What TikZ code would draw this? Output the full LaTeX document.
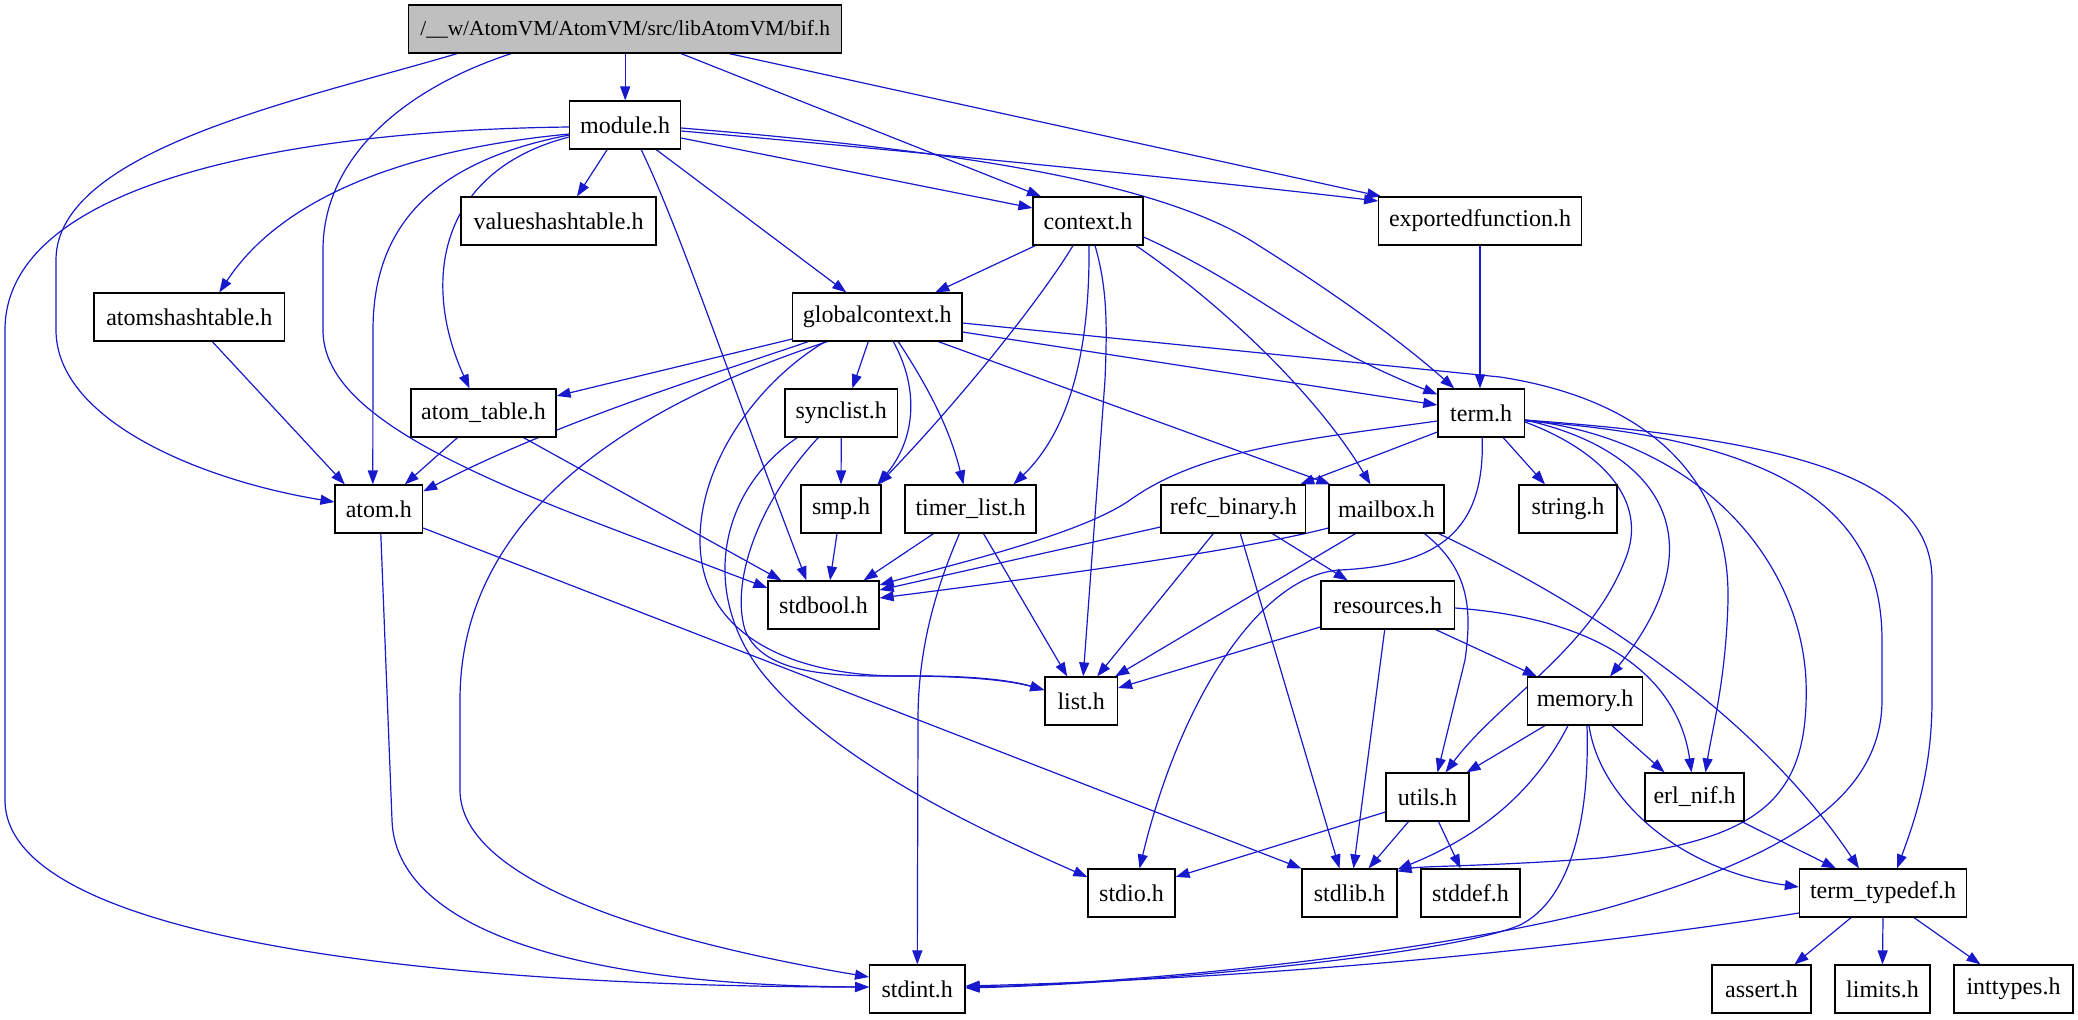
\documentclass[tikz,border=0pt]{standalone}
\usepackage{fontspec}
\setmainfont{Liberation Serif}
\usetikzlibrary{calc,arrows.meta}
\definecolor{edgeblue}{RGB}{24,24,204}
\definecolor{rootgray}{RGB}{191,191,191}
\pgfdeclarelayer{bglayer}
\pgfdeclarelayer{edgelayer}
\pgfsetlayers{bglayer,edgelayer,main}
\begin{document}
\begin{tikzpicture}[x=0.5pt,y=-0.5pt,
 box/.style={draw=black, line width=0.6pt, fill=white, minimum height=24pt, inner sep=0pt, font=\fontsize{12pt}{14pt}\selectfont},
 dep/.style={draw=edgeblue, line width=0.6pt, -{Triangle[length=7pt,width=5pt]}}]
\begin{pgfonlayer}{bglayer}
\fill[white] (0,0) rectangle (2078,1019);
\end{pgfonlayer}
\useasboundingbox (0,0) rectangle (2078,1019);

\node[box, fill=rootgray, minimum width=216.5pt, font=\fontsize{10.7pt}{13pt}\selectfont] (bif) at (625.2,29) {/\_\_w/AtomVM/AtomVM/src/libAtomVM/bif.h};
\node[box, minimum width=55.4pt] (module) at (625.2,125) {module.h};
\node[box, minimum width=97.5pt] (valueshashtable) at (558.5,221) {valueshashtable.h};
\node[box, minimum width=55pt] (context) at (1088,221) {context.h};
\node[box, minimum width=101.3pt] (exportedfunction) at (1480,221) {exportedfunction.h};
\node[box, minimum width=95.3pt] (atomshashtable) at (189.3,317) {atomshashtable.h};
\node[box, minimum width=84.6pt] (globalcontext) at (877.3,317) {globalcontext.h};
\node[box, minimum width=72.5pt] (atomtable) at (483.5,413) {atom\_table.h};
\node[box, minimum width=56.4pt] (synclist) at (841.3,413) {synclist.h};
\node[box, minimum width=43.3pt] (term) at (1481.2,413) {term.h};
\node[box, minimum width=43.8pt] (atom) at (378.8,509) {atom.h};
\node[box, minimum width=40pt] (smp) at (841,509) {smp.h};
\node[box, minimum width=65.5pt] (timerlist) at (970.5,509) {timer\_list.h};
\node[box, minimum width=72.3pt] (refc) at (1233.3,509) {refc\_binary.h};
\node[box, minimum width=57.5pt] (mailbox) at (1386.5,509) {mailbox.h};
\node[box, minimum width=49pt] (string) at (1568,509) {string.h};
\node[box, minimum width=55.5pt] (stdbool) at (823.5,605) {stdbool.h};
\node[box, minimum width=66.8pt] (resources) at (1387.7,605) {resources.h};
\node[box, minimum width=36.3pt] (list) at (1081.2,701) {list.h};
\node[box, minimum width=57.5pt] (memory) at (1585,701) {memory.h};
\node[box, minimum width=41.5pt] (utils) at (1427.5,797) {utils.h};
\node[box, minimum width=49.5pt] (erlnif) at (1694.5,797) {erl\_nif.h};
\node[box, minimum width=43.5pt] (stdio) at (1131.5,893) {stdio.h};
\node[box, minimum width=47.5pt] (stdlib) at (1349.5,893) {stdlib.h};
\node[box, minimum width=49.5pt] (stddef) at (1470.5,893) {stddef.h};
\node[box, minimum width=83.5pt] (termtypedef) at (1883,893) {term\_typedef.h};
\node[box, minimum width=49.5pt] (assert) at (1761.5,989) {assert.h};
\node[box, minimum width=47.5pt] (limits) at (1882.5,989) {limits.h};
\node[box, minimum width=59.5pt] (inttypes) at (2013.5,989) {inttypes.h};
\node[box, minimum width=47.7pt] (stdint) at (917.3,989) {stdint.h};

\begin{pgfonlayer}{edgelayer}
% bif.h
\draw[dep] (bif.south) -- (module.north);
\draw[dep] ($(bif.south)+(-168,0)$) .. controls (300,100) and (56,150) .. (56,260) -- (56,330) .. controls (56,420) and (200,480) .. ($(atom.west)+(0,-7)$);
\draw[dep] ($(bif.south)+(-114,0)$) .. controls (400,90) and (323,160) .. (323,250) -- (323,330) .. controls (323,400) and (420,455) .. (597,523) -- ($(stdbool.west)+(0,-17)$);
\draw[dep] ($(bif.south)+(56,0)$) -- ($(context.north)+(-47,0)$);
\draw[dep] ($(bif.south)+(104,0)$) -- ($(exportedfunction.north west)+(3,0)$);
% module.h
\draw[dep] ($(module.west)+(0,2)$) .. controls (300,130) and (5,180) .. (5,330) -- (5,800) .. controls (5,950) and (500,987) .. ($(stdint.west)+(0,-2)$);
\draw[dep] ($(module.west)+(0,9)$) .. controls (400,150) and (280,200) .. ($(atomshashtable.north)+(30,0)$);
\draw[dep] ($(module.west)+(0,10)$) .. controls (440,160) and (373,220) .. (373,330) -- ($(atom.north)+(-6,0)$);
\draw[dep] ($(module.west)+(0,12)$) .. controls (440,170) and (420,280) .. ($(atomtable.north)+(-14,0)$);
\draw[dep] ($(module.south)+(-18,0)$) -- ($(valueshashtable.north)+(18.5,0)$);
\draw[dep] ($(module.south)+(16,0)$) .. controls (680,230) and (730,380) .. ($(stdbool.north)+(-17,0)$);
\draw[dep] ($(module.south)+(31,0)$) -- ($(globalcontext.north)+(-31,0)$);
\draw[dep] ($(module.east)+(0,13)$) -- ($(context.west)+(0,-13)$);
\draw[dep] ($(module.east)+(0,6)$) .. controls (900,150) and (1200,180) .. ($(exportedfunction.west)+(0,-20)$);
\draw[dep] ($(module.east)+(0,3)$) .. controls (950,150) and (1150,180) .. (1250,240) .. controls (1330,290) and (1400,340) .. ($(term.north)+(-27,0)$);
% context.h
\draw[dep] ($(context.south west)+(3,0)$) -- ($(globalcontext.north)+(58,0)$);
\draw[dep] ($(context.south)+(-15,0)$) .. controls (1040,300) and (960,400) .. ($(smp.north east)+(-3,0)$);
\draw[dep] ($(context.south)+(1,0)$) .. controls (1090,350) and (1070,430) .. ($(timerlist.north)+(43,0)$);
\draw[dep] ($(context.south)+(7,0)$) .. controls (1108,290) and (1107,330) .. (1105,380) -- ($(list.north)+(2,0)$);
\draw[dep] ($(context.south)+(48,0)$) .. controls (1230,310) and (1320,400) .. ($(mailbox.north)+(-16,0)$);
\draw[dep] ($(context.east)+(0,16)$) .. controls (1260,290) and (1300,340) .. ($(term.north west)+(0,6)$);
% exportedfunction.h
\draw[dep] (exportedfunction.south) -- (exportedfunction.south |- term.north);
% globalcontext.h
\draw[dep] ($(globalcontext.west)+(0,22)$) -- ($(atomtable.east)+(0,-17)$);
\draw[dep] ($(globalcontext.south)+(-69,0)$) .. controls (720,372) and (560,420) .. ($(atom.north east)+(0,7)$);
\draw[dep] ($(globalcontext.south)+(-50,0)$) .. controls (620,410) and (460,520) .. (460,700) -- (460,790) .. controls (460,880) and (650,940) .. ($(stdint.west)+(0,-12)$);
\draw[dep] ($(globalcontext.south)+(-52,0)$) .. controls (760,380) and (700,460) .. (700,540) .. controls (700,640) and (800,676) .. (900,676) .. controls (980,676) and (1015,682) .. ($(list.west)+(0,-11)$);
\draw[dep] ($(globalcontext.south)+(-9,0)$) -- ($(synclist.north)+(11,0)$);
\draw[dep] ($(globalcontext.south)+(16,0)$) .. controls (920,390) and (915,440) .. ($(smp.north east)+(-4,0)$);
\draw[dep] ($(globalcontext.south)+(21,0)$) .. controls (930,390) and (950,430) .. ($(timerlist.north)+(-7,0)$);
\draw[dep] ($(globalcontext.south)+(61,0)$) -- ($(mailbox.north west)+(2,0)$);
\draw[dep] ($(globalcontext.east)+(0,15)$) -- ($(term.west)+(0,-8)$);
\draw[dep] ($(globalcontext.east)+(0,6)$) -- (1500,377) .. controls (1650,400) and (1730,480) .. (1728,600) .. controls (1726,680) and (1712,730) .. ($(erlnif.north)+(11,0)$);
% atomshashtable.h, atom_table.h, atom.h
\draw[dep] ($(atomshashtable.south)+(23,0)$) -- ($(atom.north)+(-34,0)$);
\draw[dep] ($(atomtable.south)+(-26,0)$) -- ($(atom.north)+(26,0)$);
\draw[dep] ($(atomtable.south)+(40,0)$) -- ($(stdbool.north west)+(14,0)$);
\draw[dep] ($(atom.south)+(2,0)$) -- (392,820) .. controls (395,920) and (550,985) .. ($(stdint.west)+(0,-2)$);
\draw[dep] ($(atom.east)+(0,19)$) -- (stdlib.north west);
% synclist.h, smp.h, timer_list.h
\draw[dep] (synclist.south) -- (smp.north);
\draw[dep] ($(synclist.south)+(-23,0)$) .. controls (760,500) and (730,580) .. (745,630) .. controls (765,680) and (850,676) .. (920,676) .. controls (990,676) and (1020,683) .. ($(list.west)+(0,-11)$);
\draw[dep] ($(synclist.south)+(-44,0)$) .. controls (720,490) and (700,590) .. (760,670) .. controls (830,760) and (980,830) .. ($(stdio.west)+(0,-16)$);
\draw[dep] ($(smp.south)+(-4,0)$) -- ($(stdbool.north)+(6.5,0)$);
\draw[dep] ($(timerlist.south)+(-37,0)$) -- ($(stdbool.north east)+(-16,0)$);
\draw[dep] ($(timerlist.south)+(13,0)$) -- ($(list.north)+(-14,0)$);
\draw[dep] ($(timerlist.south)+(-11,0)$) .. controls (935,590) and (918,650) .. (918,720) -- (stdint.north);
% refc_binary.h
\draw[dep] ($(refc.west)+(0,18)$) -- ($(stdbool.east)+(0,-15)$);
\draw[dep] ($(refc.south)+(-20,0)$) -- ($(list.north)+(16,0)$);
\draw[dep] ($(refc.south)+(39,0)$) -- ($(resources.north)+(-40,0)$);
\draw[dep] ($(refc.south)+(7,0)$) -- ($(stdlib.north)+(-10,0)$);
% mailbox.h
\draw[dep] ($(mailbox.west)+(0,19)$) .. controls (1250,548) and (1100,570) .. ($(stdbool.east)+(0,-7)$);
\draw[dep] ($(mailbox.south)+(-31,0)$) -- ($(list.north east)+(-3,0)$);
\draw[dep] ($(mailbox.south)+(38,0)$) .. controls (1470,570) and (1472,610) .. (1465,660) -- ($(utils.north)+(10,0)$);
\draw[dep] ($(mailbox.south east)+(-6,0)$) .. controls (1600,610) and (1760,720) .. ($(termtypedef.north)+(-24,0)$);
% term.h
\draw[dep] ($(term.west)+(0,19)$) -- ($(refc.north east)+(-6,0)$);
\draw[dep] ($(term.west)+(0,8)$) .. controls (1300,440) and (1200,450) .. (1130,500) .. controls (1080,535) and (950,565) .. ($(stdbool.east)+(0,-20)$);
\draw[dep] ($(term.south)+(22,0)$) -- ($(string.north)+(-23,0)$);
\draw[dep] ($(term.south)+(1,0)$) .. controls (1485,530) and (1440,565) .. (1340,570) .. controls (1260,575) and (1180,700) .. ($(stdio.north)+(8,0)$);
\draw[dep] ($(term.east)+(0,9)$) .. controls (1600,450) and (1650,500) .. (1625,560) .. controls (1590,650) and (1500,700) .. ($(utils.north)+(18,0)$);
\draw[dep] ($(term.east)+(0,7)$) .. controls (1660,450) and (1720,540) .. ($(memory.north)+(25,0)$);
\draw[dep] ($(term.east)+(0,7)$) .. controls (1700,440) and (1800,560) .. (1806,680) .. controls (1810,800) and (1760,840) .. (1600,858) .. controls (1500,866) and (1420,866) .. ($(stdlib.north east)+(0,3)$);
\draw[dep] ($(term.east)+(0,8)$) .. controls (1800,440) and (1882,520) .. (1882,640) -- (1882,700) .. controls (1882,800) and (1780,860) .. (1600,910) .. controls (1400,960) and (1100,985) .. ($(stdint.east)+(0,-2)$);
\draw[dep] ($(term.east)+(0,7)$) .. controls (1800,440) and (1932,480) .. (1932,580) -- (1932,700) .. controls (1932,770) and (1915,820) .. ($(termtypedef.north)+(14,0)$);
% resources.h
\draw[dep] ($(resources.west)+(0,22)$) -- ($(list.east)+(0,-13)$);
\draw[dep] ($(resources.south)+(-3,0)$) -- ($(stdlib.north)+(4,0)$);
\draw[dep] ($(resources.south)+(48,0)$) -- ($(memory.north west)+(10,0)$);
\draw[dep] ($(resources.east)+(0,3)$) .. controls (1620,620) and (1680,690) .. ($(erlnif.north)+(-3,0)$);
% memory.h
\draw[dep] ($(memory.south)+(-40,0)$) -- ($(utils.north east)+(-3,0)$);
\draw[dep] ($(memory.south)+(-17,0)$) .. controls (1530,800) and (1470,840) .. ($(stdlib.north east)+(0,1)$);
\draw[dep] ($(memory.south)+(27,0)$) -- ($(erlnif.north)+(-30,0)$);
\draw[dep] ($(memory.south)+(4,0)$) .. controls (1600,800) and (1680,870) .. ($(termtypedef.west)+(0,-6)$);
\draw[dep] ($(memory.south)+(2,0)$) .. controls (1590,820) and (1570,900) .. (1520,925) .. controls (1450,955) and (1150,983) .. ($(stdint.east)+(0,-1)$);
% utils.h
\draw[dep] ($(utils.west)+(0,15)$) -- ($(stdio.east)+(0,-16)$);
\draw[dep] ($(utils.south)+(-19,0)$) -- ($(stdlib.north)+(19,0)$);
\draw[dep] ($(utils.south)+(11,0)$) -- ($(stddef.north)+(-10,0)$);
% erl_nif.h, term_typedef.h
\draw[dep] ($(erlnif.south east)+(-3,0)$) -- ($(termtypedef.north)+(-47,0)$);
\draw[dep] ($(termtypedef.south)+(-32,0)$) -- ($(assert.north)+(33,0)$);
\draw[dep] (termtypedef.south) -- (limits.north);
\draw[dep] ($(termtypedef.south)+(31,0)$) -- ($(inttypes.north)+(-33,0)$);
\draw[dep] ($(termtypedef.west)+(0,20)$) .. controls (1500,960) and (1200,980) .. ($(stdint.east)+(0,-3)$);
\end{pgfonlayer}
\end{tikzpicture}
\end{document}
